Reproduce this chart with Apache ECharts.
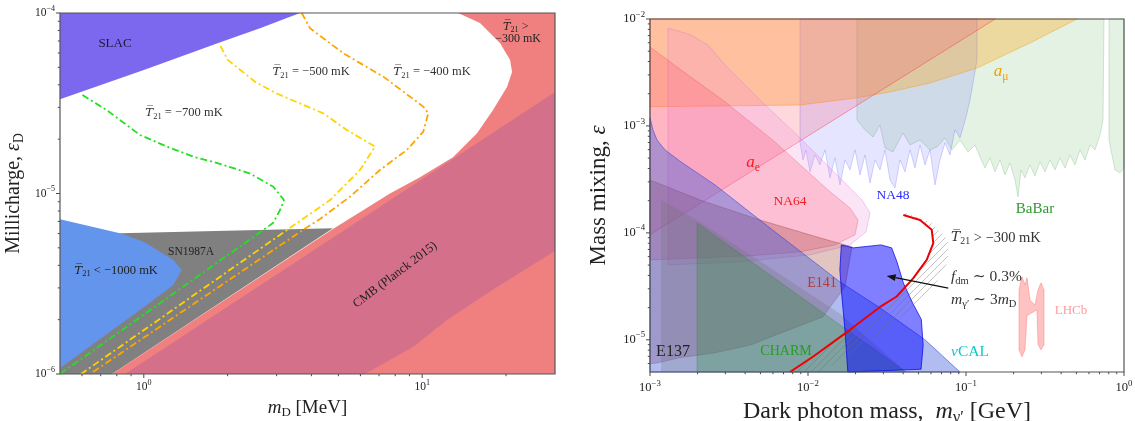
<!DOCTYPE html>
<html><head><meta charset="utf-8">
<script src="https://cdn.jsdelivr.net/npm/echarts@6/dist/echarts.min.js"></script>
<style>html,body{margin:0;padding:0;background:#fff}#c{width:1135px;height:421px}</style>
</head><body><div id="c"></div>
<script>
// ================= LEFT PANEL DATA (m_D [MeV], epsilon_D) =================
const L_X = [0.5, 30];
const L_Y = [1e-6, 1e-4];
const slac = [[0.5,1e-4],[3.64,1e-4],[2.615,8.23e-5],[1.905,6.93e-5],[1.0,4.83e-5],[0.5,3.33e-5]];
const sn1987a = [[0.5,1e-6],[0.769,1e-6],[4.78,6.41e-6],[0.821,6.02e-6],[0.5,6.02e-6]];
const t21Below1000 = [[0.5,7.2e-6],[0.821,6.02e-6],[1.0,5.41e-6],[1.276,4.28e-6],[1.368,3.77e-6],[1.276,3.11e-6],[0.969,2.26e-6],[0.5,1.08e-6]];
const t21Above300 = [[13.45,1e-4],[16.13,8.8e-5],[19.03,6.82e-5],[20.69,5.49e-5],[21.03,4.71e-5],[20.17,3.89e-5],[17.97,2.9e-5],[15.74,2.16e-5],[12.9,1.59e-5],[9.82,1.23e-5],[7.66,1.0e-5],[4.78,6.36e-6],[0.769,1e-6],[30,1e-6],[30,1e-4]];
const cmbPlanck = [[0.856,1e-6],[30,3.65e-5],[30,4.8e-6],[18.57,3.03e-6],[12.28,1.99e-6],[9.27,1.41e-6],[6.23,1e-6]];
const line700 = [[0.602,3.51e-5],[0.736,2.9e-5],[0.969,2.11e-5],[1.209,1.82e-5],[1.506,1.6e-5],[1.878,1.46e-5],[2.407,1.29e-5],[2.919,1.09e-5],[3.189,9.2e-6],[3.086,8.1e-6],[2.912,6.86e-6],[0.5,1e-6]];
const line500 = [[1.884,6.57e-5],[2.002,5.5e-5],[2.509,4.16e-5],[3.002,3.58e-5],[4.415,2.78e-5],[5.357,2.25e-5],[6.77,1.82e-5],[5.98,1.35e-5],[4.67,9.2e-6],[3.269,6.28e-6],[0.595,1e-6]];
const line400 = [[3.693,1e-4],[3.954,8.23e-5],[5.209,5.98e-5],[7.25,4.44e-5],[10.09,3.03e-5],[10.52,2.78e-5],[10.09,2.2e-5],[8.8,1.74e-5],[7.05,1.35e-5],[5.505,9.6e-6],[4.295,7.22e-6],[3.73,6.28e-6],[0.641,1e-6]];
const leftLabelPos = [[0.788,6.73e-5],[1.394,2.79e-5],[3.99,4.71e-5],[10.85,4.71e-5],[19.5,8.36e-5],[18.3,7.2e-5],[1.478,4.74e-6],[0.795,3.73e-6],[7.99,3.54e-6]];
const leftLabelText = ['SLAC','{t|T\u0305}{s|21} = \u2212700 mK','{t|T\u0305}{s|21} = \u2212500 mK','{t|T\u0305}{s|21} = \u2212400 mK','{t|T\u0305}{s|21} >','\u2212300 mK','SN1987A','{t|T\u0305}{s|21} < \u22121000 mK','CMB (Planck 2015)'];
const leftXMajor = [1,10];
const leftXMinor = [0.6,0.7,0.8,0.9,2,3,4,5,6,7,8,9,20];
const leftYMajor = [1e-6,1e-5,1e-4];
const leftYMinor = [2e-6,3e-6,4e-6,5e-6,6e-6,7e-6,8e-6,9e-6,2e-5,3e-5,4e-5,5e-5,6e-5,7e-5,8e-5,9e-5];

// ================= RIGHT PANEL DATA (m_gamma' [GeV], epsilon) =================
const R_X = [1e-3, 1];
const R_Y = [5e-6, 1e-2];
const amu = [[1e-3,1.51e-3],[8.9e-3,1.57e-3],[0.0204,1.83e-3],[0.033,2.08e-3],[0.059,2.52e-3],[0.1175,3.48e-3],[0.254,5.97e-3],[0.505,1e-2],[1e-3,1e-2]];
const ae = [[1e-3,9.6e-5],[0.153,1e-2],[1e-3,1e-2]];
const na48 = [[8.9e-3,1e-2],[8.9e-3,6.94e-4],[9.3e-3,4.81e-4],[9.71e-3,5.97e-4],[0.0103,3.72e-4],[0.01107,5.36e-4],[0.01191,4.32e-4],[0.01281,5.97e-4],[0.01377,3.27e-4],[0.01482,5.02e-4],[0.01594,2.81e-4],[0.01715,4.81e-4],[0.01844,3.88e-4],[0.01984,5.97e-4],[0.02134,3.48e-4],[0.02295,5.36e-4],[0.02469,2.93e-4],[0.02655,4.81e-4],[0.02856,3.88e-4],[0.03072,5.97e-4],[0.03304,3.13e-4],[0.03553,2.63e-4],[0.03822,4.81e-4],[0.04111,3.72e-4],[0.04421,5.97e-4],[0.04755,4.05e-4],[0.05115,6.64e-4],[0.05501,4.32e-4],[0.05917,5.97e-4],[0.06364,2.81e-4],[0.06845,4.81e-4],[0.07362,6.94e-4],[0.07918,5.36e-4],[0.08516,9.18e-4],[0.09161,7.72e-4],[0.1,1.21e-3],[0.106,1.75e-3],[0.1174,4.14e-3],[0.1174,1e-2]];
const babar = [[0.0204,1e-2],[0.0204,1.14e-3],[0.02295,9.18e-4],[0.02579,7.89e-4],[0.02856,1.02e-3],[0.03072,6.23e-4],[0.03451,5.71e-4],[0.03994,8.6e-4],[0.04421,6.64e-4],[0.05115,7.4e-4],[0.05917,5.97e-4],[0.06555,6.37e-4],[0.07362,7.72e-4],[0.08154,5.97e-4],[0.09161,7.4e-4],[0.103,5.71e-4],[0.114,6.64e-4],[0.1226,5.13e-4],[0.1319,4.05e-4],[0.1418,5.02e-4],[0.1526,3.72e-4],[0.1642,4.81e-4],[0.1765,3.48e-4],[0.1899,4.51e-4],[0.2042,3.13e-4],[0.2134,2.17e-4],[0.2229,3.88e-4],[0.2362,3.27e-4],[0.2541,4.32e-4],[0.2733,3.41e-4],[0.294,4.61e-4],[0.3162,3.72e-4],[0.3401,4.81e-4],[0.3659,3.88e-4],[0.3935,5.02e-4],[0.4233,4.05e-4],[0.4552,5.36e-4],[0.4897,4.32e-4],[0.5267,5.97e-4],[0.5666,4.81e-4],[0.6095,6.64e-4],[0.6555,5.97e-4],[0.705,8.24e-4],[0.7362,1.14e-3],[0.747,1e-2]];
const babarHigh = [[0.804,1e-2],[0.804,7.4e-4],[0.877,3.88e-4],[0.9434,3.64e-4],[1,4.05e-4],[1,1e-2]];
const tongueOuter = [[1.3e-3,5.02e-5],[1.3e-3,8.24e-3],[1.819e-3,7.09e-3],[2.329e-3,5.71e-3],[2.984e-3,3.72e-3],[4.97e-3,1.75e-3],[8.9e-3,7.72e-4],[0.01594,3.27e-4],[0.02197,2.03e-4],[0.02469,1.54e-4],[0.02329,1.02e-4],[0.01844,7.72e-5],[0.0103,6.23e-5],[3.712e-3,5.36e-5]];
const na64 = [[1e-3,5.48e-3],[1.571e-3,3.34e-3],[2.984e-3,1.68e-3],[6.18e-3,7.08e-4],[0.01338,2.52e-4],[0.01844,1.71e-4],[0.02073,1.32e-4],[0.01984,9.58e-5],[0.01482,7.72e-5],[8.9e-3,6.64e-5],[4.296e-3,6.1e-5],[2.073e-3,5.84e-5],[1e-3,5.59e-5]];
const e141 = [[1e-3,3.13e-4],[2.073e-3,2.03e-4],[4.97e-3,1.32e-4],[0.01191,8.98e-5],[0.01899,7.4e-5],[0.01715,3.13e-5],[0.01244,1.64e-5],[6.75e-3,1.16e-5],[4.358e-3,8.98e-6],[2.579e-3,7.56e-6],[1.526e-3,6.79e-6],[1.124e-3,6.1e-6],[1e-3,5.97e-6]];
const beamDump = [[1e-3,1.19e-3],[1.044e-3,9.18e-4],[1.107e-3,7.4e-4],[1.244e-3,5.97e-4],[1.571e-3,4.61e-4],[2.579e-3,2.81e-4],[5.75e-3,1.11e-4],[0.01594,3.48e-5],[0.02856,1.99e-5],[0.05501,1e-5],[0.09161,5e-6],[1e-3,5e-6]];
const e137 = [[1.174e-3,2.03e-4],[1.174e-3,5e-6],[0.04172,5e-6],[0.01594,1.75e-5],[5.75e-3,4.71e-5],[2.073e-3,1.27e-4]];
const charm = [[1.985e-3,1.24e-4],[1.985e-3,5e-6],[0.04172,5e-6]];
const fdmBlob = [[0.01625,7.72e-5],[0.01934,7.24e-5],[0.02899,7.72e-5],[0.03384,7.24e-5],[0.03656,5.36e-5],[0.04017,3.39e-5],[0.04591,2.21e-5],[0.05217,1.55e-5],[0.05356,8.9e-6],[0.05195,5.3e-6],[0.01786,5e-6],[0.01719,1.16e-5],[0.01625,2.93e-5],[0.01591,4.51e-5]];
const lhcb = [[0.2165,2.93e-5],[0.2262,3.88e-5],[0.2362,3.27e-5],[0.2432,3.8e-5],[0.2541,2.36e-5],[0.2733,2.12e-5],[0.2856,2.93e-5],[0.2984,3.41e-5],[0.3117,2.93e-5],[0.3117,8.98e-6],[0.2984,8.06e-6],[0.2856,8.98e-6],[0.2814,1.91e-5],[0.2541,1.75e-5],[0.2432,1.68e-5],[0.2362,8.06e-6],[0.2262,6.94e-6],[0.2165,8.06e-6],[0.2165,1.24e-5]];
const t21Line = [[7.69e-3,5e-6],[0.0108,6.98e-6],[0.01844,1.24e-5],[0.02856,2.03e-5],[0.03643,2.54e-5],[0.04641,3.77e-5],[0.0564,5.59e-5],[0.06209,8.01e-5],[0.06066,1.07e-4],[0.05115,1.32e-4],[0.04011,1.47e-4]];
const hatchEdge = [[0.04111,1.57e-4],[0.05917,1.27e-4],[0.07692,8.6e-5],[0.07692,5.36e-5],[0.06364,3.27e-5],[0.04755,2.12e-5],[0.03553,1.47e-5],[0.02469,9.79e-6],[0.01715,6.79e-6],[0.01191,5e-6]];
const arrowTail = [0.07727,3.04e-5];
const arrowHead = [0.03148,3.96e-5];
const rightLabelPos = [[0.1665,3.2e-3],[4.49e-3,4.51e-4],[7.69e-3,1.95e-4],[0.0345,2.22e-4],[0.2733,1.68e-4],[0.0804,8.98e-5],[0.0804,3.88e-5],[0.0804,2.36e-5],[0.462,1.87e-5],[0.01226,3.34e-5],[1.398e-3,7.73e-6],[7.26e-3,7.73e-6],[0.106,7.73e-6]];
const rightLabelText = ['{i|a}{s|\u03bc}','{i|a}{s|e}','NA64','NA48','BaBar','{t|T\u0305}{s|21} > \u2212300 mK','{i|f}{s|dm} \u223c 0.3%','{i|m}{s|\u03b3\u2032} \u223c 3{i|m}{s|D}','LHCb','E141','E137','CHARM','{i|\u03bd}CAL'];
const rightXMajor = [1e-3,1e-2,1e-1,1];
const rightXMinor = [2e-3,3e-3,4e-3,5e-3,6e-3,7e-3,8e-3,9e-3,2e-2,3e-2,4e-2,5e-2,6e-2,7e-2,8e-2,9e-2,0.2,0.3,0.4,0.5,0.6,0.7,0.8,0.9];
const rightYMajor = [1e-5,1e-4,1e-3,1e-2];
const rightYMinor = [6e-6,7e-6,8e-6,9e-6,2e-5,3e-5,4e-5,5e-5,6e-5,7e-5,8e-5,9e-5,2e-4,3e-4,4e-4,5e-4,6e-4,7e-4,8e-4,9e-4,2e-3,3e-3,4e-3,5e-3,6e-3,7e-3,8e-3,9e-3];

// ================= STYLE =================
const SERIF = '"Liberation Serif", "DejaVu Serif", serif';
const leftLabelStyle = [
  {fs:13,c:'#1a1a3a'},{fs:12.5,c:'#333'},{fs:12.5,c:'#333'},{fs:12.5,c:'#333'},{fs:12,c:'#222',align:'left'},{fs:12,c:'#222',align:'left'},{fs:11.5,c:'#222'},{fs:12.5,c:'#222'},{fs:12.5,c:'#222',rot:37}
];
const rightLabelStyle = [
  {fs:17,c:'#f0a000'},{fs:17,c:'#ff1a1a'},{fs:13.5,c:'#ee2020'},{fs:13.5,c:'#2a2aff'},{fs:15,c:'#2e9a2e'},{fs:14.5,c:'#333',align:'left'},{fs:15.5,c:'#333',align:'left'},{fs:15.5,c:'#333',align:'left'},{fs:13,c:'#ff9a9a'},{fs:14,c:'#b03a3a'},{fs:16,c:'#222'},{fs:14,c:'#22a022'},{fs:15.5,c:'#10c8c8'}
];

function mkRich(fs){
  return {
    t:{fontFamily:'"DejaVu Serif", serif',fontStyle:'italic',fontSize:fs*0.95},
    i:{fontFamily:SERIF,fontStyle:'italic',fontSize:fs},
    s:{fontFamily:SERIF,fontSize:fs*0.68,padding:[fs*0.55,0,0,0]}
  };
}
function supRich(fs){
  return {b:{fontFamily:SERIF,fontSize:fs,color:'#222'},s:{fontFamily:SERIF,fontSize:fs*0.7,color:'#222',padding:[0,0,fs*0.75,0]}};
}
function isPow10(v){const l=Math.log10(v);return Math.abs(l-Math.round(l))<1e-6;}
function powFmt(v){ if(!isPow10(v)) return ''; const e=Math.round(Math.log10(v)); return '{b|10}{s|'+(e<0?'\u2212':'')+Math.abs(e)+'}'; }

function poly(g, pts, fill, stroke, lw, z){
  return {type:'custom',xAxisIndex:g,yAxisIndex:g,z:z,silent:true,data:pts,encode:{x:0,y:1},
    renderItem:function(params,api){ if(params.dataIndex!==0) return null;
      const P=pts.map(p=>api.coord(p));
      return {type:'polygon',shape:{points:P},style:{fill:fill,stroke:stroke||null,lineWidth:lw||0}};
    }};
}
function dline(g, pts, color, w, dash, z){
  return {type:'line',xAxisIndex:g,yAxisIndex:g,z:z,silent:true,data:pts,symbol:'none',smooth:false,
    lineStyle:{color:color,width:w,type:dash||'solid'},animation:false};
}
function ticks(g, vals, isX, fixed, len){
  return {type:'custom',xAxisIndex:g,yAxisIndex:g,z:50,silent:true,
    data: vals.map(v=> isX?[v,fixed]:[fixed,v]),encode:{x:0,y:1},
    renderItem:function(params,api){ const c=api.coord([api.value(0),api.value(1)]);
      const sh = isX?{x1:c[0],y1:c[1],x2:c[0],y2:c[1]+len}:{x1:c[0],y1:c[1],x2:c[0]-len,y2:c[1]};
      return {type:'line',shape:sh,style:{stroke:'#333',lineWidth:0.9}};
    }};
}
function frame(g, X, Y){
  return {type:'custom',xAxisIndex:g,yAxisIndex:g,z:60,silent:true,data:[[X[0],Y[0]]],encode:{x:0,y:1},
    renderItem:function(params,api){ const a=api.coord([X[0],Y[1]]), b=api.coord([X[1],Y[0]]);
      return {type:'rect',shape:{x:a[0],y:a[1],width:b[0]-a[0],height:b[1]-a[1]},style:{fill:null,stroke:'#555',lineWidth:1.2}};
    }};
}
function labels(g, pos, texts, styles){
  return {type:'custom',xAxisIndex:g,yAxisIndex:g,z:70,silent:true,data:pos.map((p,i)=>[p[0],p[1],i]),encode:{x:0,y:1},
    renderItem:function(params,api){ const i=api.value(2); const st=styles[i]; const c=api.coord([api.value(0),api.value(1)]);
      return {type:'text',x:c[0],y:c[1],rotation:(st.rot||0)*Math.PI/180,
        style:{text:texts[i],fontFamily:SERIF,fontSize:st.fs,fill:st.c,align:st.align||'center',verticalAlign:'middle',rich:mkRich(st.fs)}};
    }};
}

// hatch pattern
const hc=document.createElement('canvas'); hc.width=7; hc.height=7;
const hx=hc.getContext('2d'); hx.strokeStyle='rgba(110,110,110,0.6)'; hx.lineWidth=0.7;
hx.beginPath(); hx.moveTo(0,7); hx.lineTo(7,0); hx.moveTo(-1,1); hx.lineTo(1,-1); hx.moveTo(6,8); hx.lineTo(8,6); hx.stroke();

const hatchPoly = t21Line.concat(hatchEdge);

function axisBase(min,max,fs,margin){
  return {type:'log',logBase:10,min:min,max:max,axisLine:{show:false},axisTick:{show:false},splitLine:{show:false},
    axisLabel:{formatter:powFmt,rich:supRich(fs),margin:margin,hideOverlap:false}};
}

const chart=echarts.init(document.getElementById('c'),null,{renderer:'canvas'});
const xL=axisBase(L_X[0],L_X[1],11.5,5); Object.assign(xL,{gridIndex:0,name:'{i|m}{s|D} [MeV]',nameLocation:'middle',nameGap:21,
  nameTextStyle:{fontFamily:SERIF,fontSize:19,color:'#222',rich:mkRich(19)}});
const yL=axisBase(L_Y[0],L_Y[1],11.5,5); Object.assign(yL,{gridIndex:0,name:'Millicharge, {i|\u03b5}{s|D}',nameLocation:'middle',nameGap:34,
  nameTextStyle:{fontFamily:SERIF,fontSize:20,color:'#222',rich:mkRich(20)}});
const xR=axisBase(R_X[0],R_X[1],12.5,7); Object.assign(xR,{gridIndex:1,name:'Dark photon mass,  {i|m}{s|\u03b3\u2032} [GeV]',nameLocation:'middle',nameGap:22,
  nameTextStyle:{fontFamily:SERIF,fontSize:24,color:'#222',rich:mkRich(24)}});
const yR=axisBase(R_Y[0],R_Y[1],12.5,5); Object.assign(yR,{gridIndex:1,name:'Mass mixing, {i|\u03b5}',nameLocation:'middle',nameGap:40,
  nameTextStyle:{fontFamily:SERIF,fontSize:23,color:'#222',rich:mkRich(23)}});

const series=[
  // left panel
  poly(0, sn1987a, '#808080', null, 0, 1),
  poly(0, t21Below1000, '#6495ed', null, 0, 2),
  poly(0, slac, '#7b68ee', null, 0, 2),
  poly(0, t21Above300, '#f08080', null, 0, 3),
  poly(0, cmbPlanck, '#d5708a', null, 0, 4),
  dline(0, line700, '#22e022', 1.8, [7,3,2,3], 10),
  dline(0, line500, '#ffd400', 1.8, [7,3,2,3], 10),
  dline(0, line400, '#ffa500', 1.8, [7,3,2,3], 10),
  labels(0, leftLabelPos, leftLabelText, leftLabelStyle),
  ticks(0, leftXMajor, true, L_Y[0], 4), ticks(0, leftXMinor, true, L_Y[0], 2.2),
  ticks(0, leftYMajor, false, L_X[0], 4), ticks(0, leftYMinor, false, L_X[0], 2.2),
  frame(0, L_X, L_Y),
  // right panel
  poly(1, babar, 'rgba(120,190,120,0.2)', 'rgba(100,170,100,0.35)', 0.8, 1),
  poly(1, babarHigh, 'rgba(120,190,120,0.2)', 'rgba(100,170,100,0.35)', 0.8, 1),
  poly(1, na48, 'rgba(80,80,255,0.15)', 'rgba(80,80,255,0.3)', 0.8, 2),
  poly(1, amu, 'rgba(255,160,0,0.3)', 'rgba(255,150,0,0.5)', 0.8, 3),
  poly(1, ae, 'rgba(255,60,90,0.2)', 'rgba(255,40,60,0.5)', 0.8, 4),
  poly(1, tongueOuter, 'rgba(235,130,215,0.22)', 'rgba(200,100,200,0.35)', 0.8, 5),
  poly(1, na64, 'rgba(255,80,110,0.25)', 'rgba(220,60,80,0.35)', 0.8, 6),
  poly(1, e141, 'rgba(160,60,50,0.3)', 'rgba(140,50,40,0.4)', 0.8, 7),
  poly(1, beamDump, 'rgba(60,90,220,0.4)', 'rgba(40,60,220,0.6)', 0.9, 8),
  poly(1, e137, 'rgba(110,110,110,0.25)', null, 0, 9),
  poly(1, charm, 'rgba(40,140,40,0.28)', 'rgba(40,120,40,0.35)', 0.8, 10),
  poly(1, fdmBlob, 'rgba(0,0,255,0.5)', 'rgba(0,0,230,0.7)', 1, 11),
  poly(1, lhcb, 'rgba(255,120,120,0.45)', 'rgba(255,120,120,0.6)', 0.8, 12),
  {type:'custom',xAxisIndex:1,yAxisIndex:1,z:13,silent:true,data:hatchPoly,encode:{x:0,y:1},
    renderItem:function(params,api){ if(params.dataIndex!==0) return null;
      return {type:'polygon',shape:{points:hatchPoly.map(p=>api.coord(p))},style:{fill:{image:hc,repeat:'repeat'},stroke:null}};}},
  dline(1, t21Line, '#ee0000', 2, 'solid', 14),
  {type:'custom',xAxisIndex:1,yAxisIndex:1,z:15,silent:true,data:[arrowTail],encode:{x:0,y:1},
    renderItem:function(params,api){ const a=api.coord(arrowTail), b=api.coord(arrowHead);
      const ang=Math.atan2(b[1]-a[1],b[0]-a[0]), L=9, W=3.5;
      const bx=b[0]-L*Math.cos(ang), by=b[1]-L*Math.sin(ang);
      return {type:'group',children:[
        {type:'line',shape:{x1:a[0],y1:a[1],x2:bx,y2:by},style:{stroke:'#111',lineWidth:1.3}},
        {type:'polygon',shape:{points:[[b[0],b[1]],[bx-W*Math.sin(ang),by+W*Math.cos(ang)],[bx+W*Math.sin(ang),by-W*Math.cos(ang)]]},style:{fill:'#111'}}]};}},
  labels(1, rightLabelPos, rightLabelText, rightLabelStyle),
  ticks(1, rightXMajor, true, R_Y[0], 4), ticks(1, rightXMinor, true, R_Y[0], 2.2),
  ticks(1, rightYMajor, false, R_X[0], 4), ticks(1, rightYMinor, false, R_X[0], 2.2),
  frame(1, R_X, R_Y)
];

chart.setOption({
  animation:false,
  backgroundColor:'#fff',
  grid:[{left:60,top:13,width:495,height:361,containLabel:false,outerBoundsMode:'none'},
        {left:650,top:19,width:474,height:353,containLabel:false,outerBoundsMode:'none'}],
  xAxis:[xL,xR], yAxis:[yL,yR],
  series:series
});
</script></body></html>
